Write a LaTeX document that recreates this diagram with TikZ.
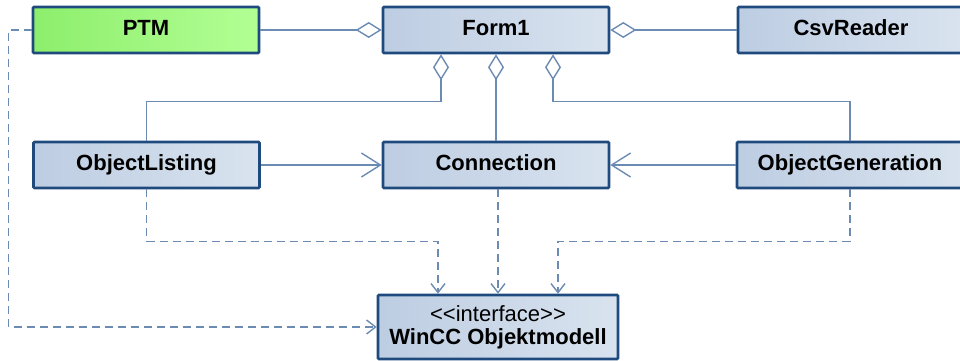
\documentclass[tikz,border=0pt]{standalone}
\usepackage{fontspec}
\setmainfont{Liberation Sans}
\usetikzlibrary{arrows.meta}

\definecolor{clsborder}{HTML}{1F4A7E}
\definecolor{clsfillA}{HTML}{BDCDE2}
\definecolor{clsfillB}{HTML}{D9E3EF}
\definecolor{ptmfillA}{HTML}{8DEE6C}
\definecolor{ptmfillB}{HTML}{B2FF94}
\definecolor{linkcol}{HTML}{6C8BB3}

\begin{document}
\begin{tikzpicture}[x=1pt,y=-1pt]
\tikzstyle{cls}=[draw=clsborder,line width=2.6pt,rounded corners=1pt,left color=clsfillA,right color=clsfillB,
  minimum width=226pt,minimum height=46pt,inner sep=0pt,text height=16pt,text depth=5pt,
  font=\fontsize{22}{23}\selectfont\bfseries]
\tikzstyle{ptm}=[cls,left color=ptmfillA,right color=ptmfillB]
\tikzstyle{link}=[draw=linkcol,line width=1.4pt]
\tikzstyle{agg}=[link,-{Diamond[open,length=26pt,width=16pt,line width=1.4pt]}]
\tikzstyle{assoc}=[link,-{Straight Barb[length=19pt,width=24pt,line width=1.4pt]}]
\tikzstyle{dep}=[link,dash pattern=on 8pt off 5pt,-{Straight Barb[length=9pt,width=14pt,line width=1.4pt]}]
\useasboundingbox (0,0) rectangle (960,361);
\clip (0,0) rectangle (960,361);
% ========= classes
\node (ptm) [ptm] at (146,30) {PTM};
\node (form) [cls] at (496,30) {Form1};
\node (csv) [cls] at (851,30) {CsvReader};

\node (listing) [cls] at (146.5,165) {ObjectListing};
\node (conn) [cls] at (496,165) {Connection};
\node (gen) [cls] at (850,165) {ObjectGeneration};

\node (wincc) [cls,minimum width=240pt,minimum height=64pt,align=center,text height=,text depth=,
  font=\fontsize{22}{23}\selectfont] at (498,327)
  {{<}{<}interface{>}{>}\\\textbf{WinCC Objektmodell}};
% ====== aggregations
\draw [agg] (ptm) -- (form);
\draw [agg] (csv) -- (form);
\draw [agg] (listing.north) -- ++(0,-39) -| ([xshift=-55pt]form.south);
\draw [agg] (conn) -- (form);
\draw [agg] (gen.north) -- ++(0,-39) -| ([xshift=57pt]form.south);
% ====== associations
\draw [assoc] (listing) -- (conn);
\draw [assoc] (gen) -- (conn);
%% ===== dependencies
\draw [dep] (listing.south) -- ++(0,52) -| ([xshift=-60pt]wincc.north);
\draw [dep] (conn.south -| wincc.north) -- (wincc.north);
\draw [dep] (gen.south) -- ++(0,52) -| ([xshift=60pt]wincc.north);
\draw [dep] (ptm.west) -- ++(-23,0) |- (wincc.west);
\end{tikzpicture}
\end{document}
